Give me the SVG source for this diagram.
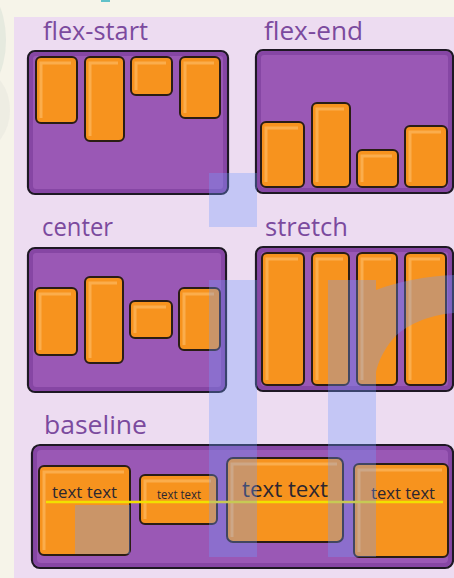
<svg xmlns="http://www.w3.org/2000/svg" width="454" height="578" viewBox="0 0 454 578">
<defs>
<style>
.lbl{font-family:"Open Sans","Liberation Sans",sans-serif;fill:#7b4a9e;font-size:25px}
.box{fill:#9a58b5;stroke:#1e1824;stroke-width:2.2}
.boxin{fill:none;stroke:#7e3f9c;stroke-width:4;opacity:.7}
.it{fill:#f7931e;stroke:#2a1d14;stroke-width:2}
.hl{fill:none;stroke:#fbb457;stroke-width:3;opacity:.8}
.tt{font-family:"Open Sans","Liberation Sans",sans-serif;fill:#2b2630}
.wm{fill:#6f9bff;opacity:.33}
</style>
</defs>
<rect x="0" y="0" width="454" height="578" fill="#f6f4e9"/>
<ellipse cx="-30" cy="40" rx="36" ry="60" fill="#d6e0d6" opacity=".5"/>
<ellipse cx="-20" cy="110" rx="30" ry="40" fill="#e9e7df" opacity=".6"/>
<rect x="101" y="0" width="9" height="2" fill="#3cb4c0" opacity=".8"/>
<rect x="14" y="17" width="440" height="561" fill="#eddcf1"/>

<g id="flex-start">
<text class="lbl" x="43" y="40" textLength="105" lengthAdjust="spacingAndGlyphs">flex-start</text>
<rect class="box" x="28" y="51" width="200" height="143" rx="7"/>
<rect class="boxin" x="31" y="54" width="194" height="137" rx="5"/>
<rect class="it" x="36" y="57" width="41" height="66" rx="5"/><path class="hl" d="M41 118V63h30"/>
<rect class="it" x="85" y="57" width="39" height="84" rx="5"/><path class="hl" d="M90 136V63h28"/>
<rect class="it" x="131" y="57" width="41" height="38" rx="5"/><path class="hl" d="M136 90V63h30"/>
<rect class="it" x="180" y="57" width="40" height="61" rx="5"/><path class="hl" d="M185 113V63h29"/>
</g>

<g id="flex-end">
<text class="lbl" x="264" y="40" textLength="99" lengthAdjust="spacingAndGlyphs">flex-end</text>
<rect class="box" x="256" y="50" width="197" height="143" rx="7"/>
<rect class="boxin" x="259" y="53" width="191" height="137" rx="5"/>
<rect class="it" x="261" y="122" width="43" height="65" rx="5"/><path class="hl" d="M266 182V128h32"/>
<rect class="it" x="312" y="103" width="38" height="84" rx="5"/><path class="hl" d="M317 182V109h27"/>
<rect class="it" x="357" y="150" width="41" height="37" rx="5"/><path class="hl" d="M362 182V156h30"/>
<rect class="it" x="405" y="126" width="42" height="61" rx="5"/><path class="hl" d="M410 182V132h31"/>
</g>

<g id="center">
<text class="lbl" x="42" y="236" textLength="71" lengthAdjust="spacingAndGlyphs">center</text>
<rect class="box" x="28" y="248" width="198" height="144" rx="7"/>
<rect class="boxin" x="31" y="251" width="192" height="138" rx="5"/>
<rect class="it" x="35" y="288" width="42" height="67" rx="5"/><path class="hl" d="M40 350V294h31"/>
<rect class="it" x="85" y="277" width="38" height="86" rx="5"/><path class="hl" d="M90 358V283h27"/>
<rect class="it" x="130" y="301" width="42" height="37" rx="5"/><path class="hl" d="M135 333V307h31"/>
<rect class="it" x="179" y="288" width="41" height="62" rx="5"/><path class="hl" d="M184 345V294h30"/>
</g>

<g id="stretch">
<text class="lbl" x="265" y="236" textLength="83" lengthAdjust="spacingAndGlyphs">stretch</text>
<rect class="box" x="256" y="247" width="197" height="144" rx="7"/>
<rect class="boxin" x="259" y="250" width="191" height="138" rx="5"/>
<rect class="it" x="262" y="253" width="42" height="132" rx="5"/><path class="hl" d="M267 380V259h31"/>
<rect class="it" x="312" y="253" width="37" height="132" rx="5"/><path class="hl" d="M317 380V259h26"/>
<rect class="it" x="357" y="253" width="40" height="132" rx="5"/><path class="hl" d="M362 380V259h29"/>
<rect class="it" x="405" y="253" width="41" height="132" rx="5"/><path class="hl" d="M410 380V259h30"/>
</g>

<g id="baseline">
<text class="lbl" x="44" y="434" textLength="103" lengthAdjust="spacingAndGlyphs">baseline</text>
<rect class="box" x="32" y="445" width="421" height="123" rx="8"/>
<rect class="boxin" x="35" y="448" width="415" height="117" rx="6"/>
<rect class="it" x="39" y="466" width="91" height="89" rx="5"/><path class="hl" d="M44 550V472h80"/>
<rect class="it" x="140" y="475" width="77" height="49" rx="5"/><path class="hl" d="M145 519V481h66"/>
<rect class="it" x="227" y="458" width="116" height="84" rx="6"/><path class="hl" d="M232 537V464h105"/>
<rect class="it" x="354" y="464" width="94" height="93" rx="5"/><path class="hl" d="M359 552V470h83"/>
<text class="tt" x="52" y="498" font-size="16" textLength="65" lengthAdjust="spacingAndGlyphs">text text</text>
<text class="tt" x="157" y="499" font-size="12" textLength="44" lengthAdjust="spacingAndGlyphs">text text</text>
<text class="tt" x="242" y="497" font-size="21" textLength="86" lengthAdjust="spacingAndGlyphs">text text</text>
<text class="tt" x="371" y="499" font-size="16" textLength="64" lengthAdjust="spacingAndGlyphs">text text</text>
<line x1="46" y1="502" x2="443" y2="502" stroke="#f2e000" stroke-width="2.5"/>
</g>

<g id="watermark">
<rect class="wm" x="209" y="173" width="48" height="54"/>
<rect class="wm" x="209" y="280" width="48" height="277"/>
<rect class="wm" x="328" y="280" width="48" height="277"/>
<path class="wm" d="M376 290C400 281 428 276 454 275V313C428 315 405 325 392 340C384 350 378 362 376 372Z"/>
<rect class="wm" x="75" y="505" width="55" height="49"/>
</g>
</svg>
